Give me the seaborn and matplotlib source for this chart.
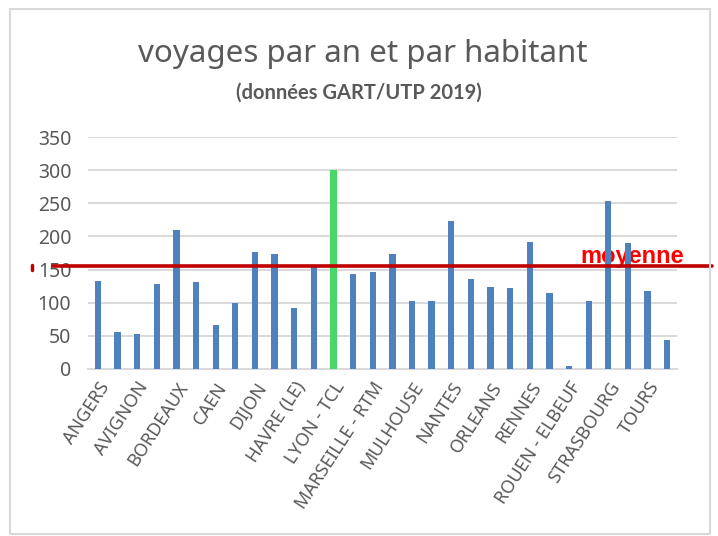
import matplotlib
matplotlib.use("Agg")
import matplotlib.pyplot as plt
import matplotlib.patches as mpatches
import seaborn as sns
import pandas as pd

# réseaux (une étiquette sur deux est affichée, comme dans Excel)
villes = [
    "ANGERS", "ANNECY", "AVIGNON", "BESANCON", "BORDEAUX", "BREST",
    "CAEN", "CLERMONT-FERRAND", "DIJON", "GRENOBLE", "HAVRE (LE)", "LILLE",
    "LYON - TCL", "MANS (LE)", "MARSEILLE - RTM", "METZ", "MULHOUSE", "NANCY",
    "NANTES", "NICE", "ORLEANS", "REIMS", "RENNES", "ROCHELLE (LA)",
    "ROUEN - ELBEUF", "SAINT-ETIENNE", "STRASBOURG", "TOULOUSE", "TOURS", "VALENCE",
]
voyages = [
    132, 56, 53, 128, 210, 131,
    67, 100, 177, 174, 92, 154,
    300, 144, 147, 174, 103, 102,
    224, 136, 124, 122, 192, 115,
    5, 103, 254, 190, 117, 44,
]
moyenne = 155
mise_en_avant = "LYON - TCL"

BLEU = "#4F81BD"
VERT = "#48D86A"
GRIS = "#595959"

df = pd.DataFrame({"ville": villes, "voyages": voyages})
palette = {v: (VERT if v == mise_en_avant else BLEU) for v in villes}

sns.set_style("white")
plt.rcParams["font.family"] = ["Noto Sans", "DejaVu Sans"]

fig = plt.figure(figsize=(7.18, 5.36), dpi=100)
ax = fig.add_axes([0.1226, 0.3116, 0.8204, 0.4328])

sns.barplot(data=df, x="ville", y="voyages", hue="ville", palette=palette,
            width=0.32, saturation=1, linewidth=0, legend=False, ax=ax, zorder=3)

ax.set_ylim(0, 350)
ax.set_xlim(-0.5, len(villes) - 0.5)
ax.set_yticks(range(0, 351, 50))
ax.yaxis.grid(True, color="#D9D9D9", linewidth=1.4, zorder=0)
ax.set_axisbelow(True)
for s in ["top", "right", "left"]:
    ax.spines[s].set_visible(False)
ax.spines["bottom"].set_color("#D9D9D9")
ax.spines["bottom"].set_linewidth(1.4)

ax.set_xticks(range(0, len(villes), 2))
ax.set_xticklabels(villes[::2], rotation=57, ha="right", va="top",
                   rotation_mode="anchor", fontsize=13, color=GRIS)
ax.tick_params(axis="both", length=0)
ax.tick_params(axis="x", pad=7)
ax.tick_params(axis="y", labelsize=14, labelcolor=GRIS, pad=12)
ax.set_xlabel("")
ax.set_ylabel("")

# ligne de la moyenne
ax.axhline(moyenne, xmin=(53 - 88) / 589, xmax=(712 - 88) / 589,
           color="#C00000", linewidth=2.6, clip_on=False, zorder=5)
ax.plot([(32 - 88) / 589] * 2, [moyenne - 5, moyenne + 2], color="#C00000",
        linewidth=2.5, transform=ax.get_yaxis_transform(), clip_on=False)
ax.text(24.6, moyenne + 5, "moyenne", color="#FF0000", fontsize=17,
        fontweight="bold", family="Liberation Sans", va="baseline", zorder=2)

fig.text(0.505, 0.9, "voyages par an et par habitant", ha="center",
         va="center", fontsize=22.5, color=GRIS)
fig.text(0.50, 0.828, "(données GART/UTP 2019)", ha="center", va="center",
         fontsize=14.5, fontweight="bold", family="Lato", color=GRIS)

fig.patches.append(mpatches.Rectangle((10 / 718, 2 / 536), 700 / 718, 525 / 536,
                                      transform=fig.transFigure, fill=False,
                                      edgecolor="#D9D9D9", linewidth=1.5))

fig.savefig("out.png", dpi=100)
